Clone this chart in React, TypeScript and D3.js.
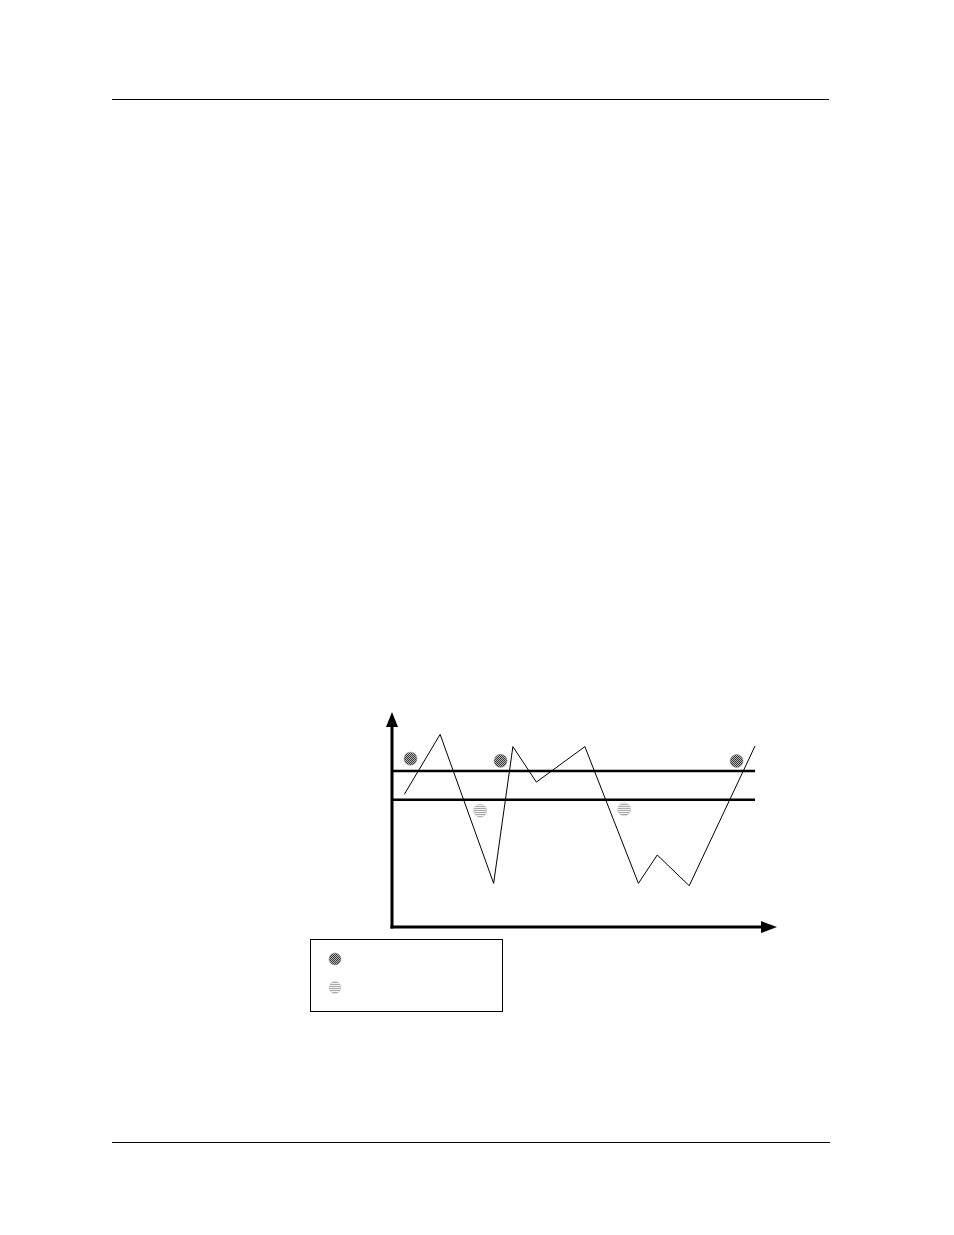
import React from 'react';
import * as d3 from 'd3';

// zigzag process line (x, y in chart units 0..100)
const lineX = [3.2, 12.5, 26.4, 31.4, 37.5, 50.1, 64.0, 68.9, 77.2, 94.3];
const lineY = [61.7, 89.6, 20.3, 83.9, 67.4, 83.9, 20.3, 33.5, 19.2, 84.2];

// two horizontal limits
const limits = [72.6, 59.2];
const limitEnd = 94.3;

// dark (checkered) markers
const darkX = [4.8, 28.2, 89.5];
const darkY = [78.3, 77.3, 77.2];

// light (striped) markers
const lightX = [22.9, 60.3];
const lightY = [54.1, 54.7];

const W = 954;
const H = 1235;

const App: React.FC = () => {
  // chart frame
  const x = d3.scaleLinear().domain([0, 100]).range([392, 777]);
  const y = d3.scaleLinear().domain([0, 100]).range([927, 712]);

  const pts: [number, number][] = lineX.map((v, i) => [v, lineY[i]]);
  const path = d3.line<[number, number]>()
    .x(d => x(d[0]))
    .y(d => y(d[1]))(pts) as string;

  const x0 = x(0);
  const y0 = y(0);
  const r = 6.5;

  return (
    <svg width={W} height={H} style={{ position: 'absolute', top: 0, left: 0, background: '#fff' }}>
      <defs>
        <pattern id="checker" width="2" height="2" patternUnits="userSpaceOnUse">
          <rect width="2" height="2" fill="#b4b4b4" />
          <rect width="1" height="1" fill="#3a3a3a" />
          <rect x="1" y="1" width="1" height="1" fill="#3a3a3a" />
        </pattern>
        <pattern id="stripes" width="2" height="2" patternUnits="userSpaceOnUse">
          <rect width="2" height="2" fill="#f4f4f4" />
          <rect width="2" height="1" fill="#a8a8a8" />
        </pattern>
      </defs>

      {/* page rules */}
      <line x1={112} x2={829} y1={99.5} y2={99.5} stroke="#000" strokeWidth={1} />
      <line x1={112} x2={830} y1={1142.5} y2={1142.5} stroke="#000" strokeWidth={1} />

      {/* axes */}
      <line x1={x0} x2={x0} y1={y0 + 1.5} y2={y(100) + 12} stroke="#000" strokeWidth={3} />
      <path d={`M${x0 - 6},${y(100) + 15} L${x0},${y(100)} L${x0 + 6},${y(100) + 15} Z`} fill="#000" />
      <line x1={x0 - 1.5} x2={x(100) - 14} y1={y0} y2={y0} stroke="#000" strokeWidth={3} />
      <path d={`M${x(100) - 16},${y0 - 6} L${x(100)},${y0} L${x(100) - 16},${y0 + 6} Z`} fill="#000" />

      {/* limit lines */}
      {limits.map((l, i) => (
        <line key={i} x1={x0} x2={x(limitEnd)} y1={y(l)} y2={y(l)} stroke="#000" strokeWidth={2.5} />
      ))}

      {/* process line */}
      <path d={path} fill="none" stroke="#000" strokeWidth={1} />

      {/* markers */}
      {darkX.map((v, i) => (
        <circle key={'d' + i} cx={x(v)} cy={y(darkY[i])} r={r} fill="url(#checker)" stroke="#888" strokeWidth={0.6} />
      ))}
      {lightX.map((v, i) => (
        <circle key={'l' + i} cx={x(v)} cy={y(lightY[i])} r={r} fill="url(#stripes)" stroke="#c4c4c4" strokeWidth={0.6} />
      ))}

      {/* legend */}
      <rect x={310.5} y={939.5} width={192} height={72} fill="none" stroke="#000" strokeWidth={1} />
      <circle cx={335} cy={959} r={6} fill="url(#checker)" stroke="#888" strokeWidth={0.6} />
      <circle cx={335} cy={987.5} r={6} fill="url(#stripes)" stroke="#c4c4c4" strokeWidth={0.6} />
    </svg>
  );
};

export default App;
